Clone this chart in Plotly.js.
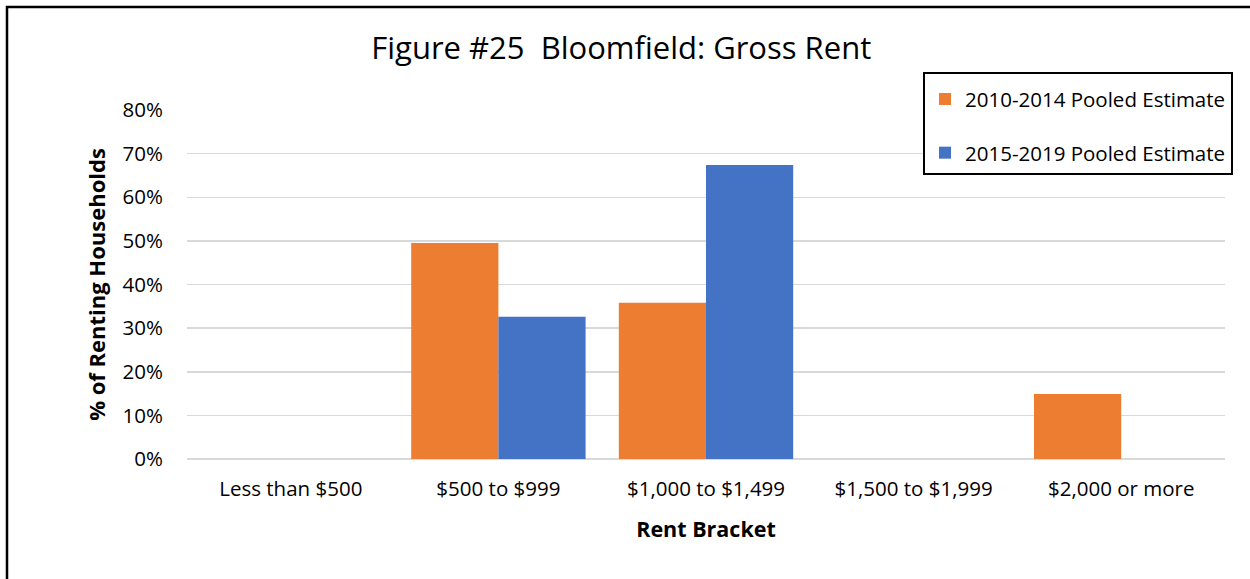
<!DOCTYPE html>
<html>
<head>
<meta charset="utf-8">
<script src="https://cdn.plot.ly/plotly-3.0.1.min.js"></script>
<style>html,body{margin:0;padding:0;background:#fff;}</style>
</head>
<body>
<div id="chart" style="width:1250px;height:579px;"></div>
<script>
const categories = ["Less than $500", "$500 to $999", "$1,000 to $1,499", "$1,500 to $1,999", "$2,000 or more"];
const series1Name = "2010-2014 Pooled Estimate";
const series1Values = [0, 0.495, 0.358, 0, 0.149];
const series2Name = "2015-2019 Pooled Estimate";
const series2Values = [0, 0.326, 0.674, 0, 0];
const yTickVals = [0, 0.1, 0.2, 0.3, 0.4, 0.5, 0.6, 0.7, 0.8];
const yTickText = ["0%", "10%", "20%", "30%", "40%", "50%", "60%", "70%", "80%"];

const FONT = "'Open Sans', Lato, sans-serif";

const traces = [
  {type: "bar", name: series1Name, x: categories, y: series1Values,
   marker: {color: "#ED7D31"}, legendgroup: "a", hoverinfo: "skip"},
  {type: "bar", name: series2Name, x: categories, y: series2Values,
   marker: {color: "#4472C4"}, legendgroup: "b", hoverinfo: "skip"}
];

const layout = {
  width: 1250, height: 579,
  paper_bgcolor: "#fff", plot_bgcolor: "#fff",
  margin: {l: 187, r: 25, t: 110, b: 120, pad: 0, autoexpand: false},
  font: {family: FONT, color: "#000", size: 20.5},
  barmode: "group", bargap: 0.16, bargroupgap: 0,
  title: {text: "Figure #25  Bloomfield: Gross Rent", font: {size: 31, family: FONT, color: "#000"},
          xref: "container", x: 0.497, xanchor: "center", yref: "container", y: 0.917, yanchor: "middle"},
  xaxis: {
    type: "category", showgrid: false, showline: false, zeroline: false, ticks: "",
    tickfont: {size: 20.5, color: "#000"}, ticklabelstandoff: 15,
    title: {text: "<b>Rent Bracket</b>", font: {size: 21.5, color: "#000"}, standoff: 21}
  },
  yaxis: {
    range: [0, 0.8], tickvals: yTickVals, ticktext: yTickText,
    showgrid: true, gridcolor: "#d9d9d9", gridwidth: 1.5,
    zeroline: true, zerolinecolor: "#d9d9d9", zerolinewidth: 1.5,
    showline: false, ticks: "", ticklen: 0,
    tickfont: {size: 20.5, color: "#000"}, ticklabelstandoff: 23,
    title: {text: "<b>% of Renting Households</b>", font: {size: 22, color: "#000"}, standoff: 10}
  },
  legend: {
    xref: "container", yref: "container", x: 923/1250, y: 1 - 72/579, xanchor: "left", yanchor: "top",
    bgcolor: "#fff", bordercolor: "#000", borderwidth: 2,
    font: {size: 20.5, color: "#000"}, tracegroupgap: 24, traceorder: "grouped",
    itemwidth: 30,
    title: {text: " ", font: {size: 4}}
  },
  shapes: [
    {type: "rect", xref: "paper", yref: "paper",
     x0: (7 - 187) / 1038, x1: 1.1, y0: -0.6, y1: (459 - 7) / 349,
     line: {color: "#000", width: 2.5}, fillcolor: "rgba(0,0,0,0)", layer: "below"}
  ],
  showlegend: true
};

Plotly.newPlot("chart", traces, layout, {displayModeBar: false, staticPlot: true});
</script>
</body>
</html>
